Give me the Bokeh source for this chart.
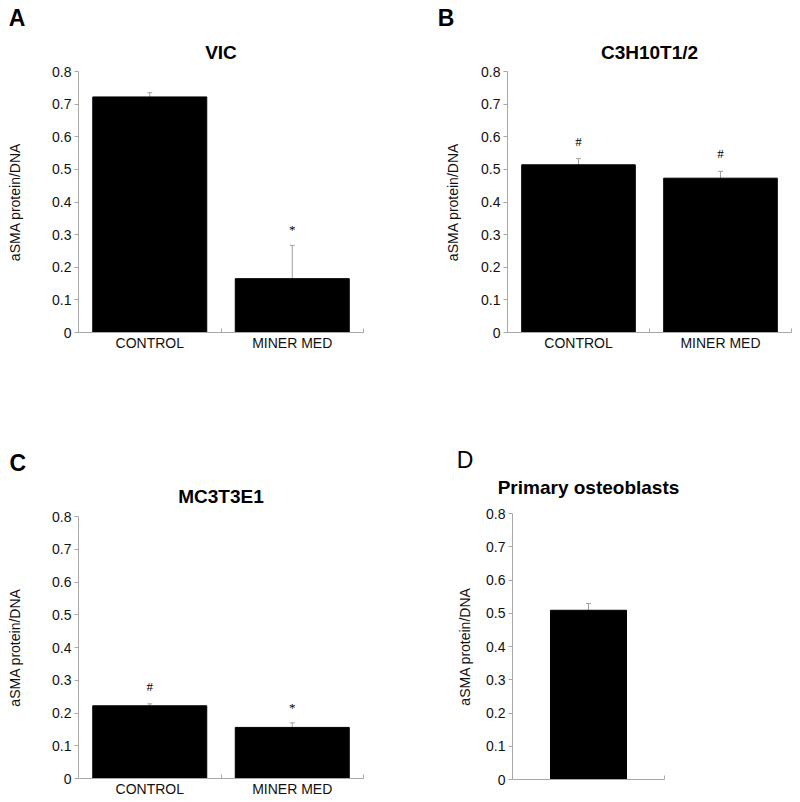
from bokeh.plotting import figure
from bokeh.models import (FactorRange, Range1d, LinearAxis, FixedTicker, Whisker, TeeHead,
                          ColumnDataSource, LabelSet, Title)
from bokeh.layouts import column, row
from bokeh.embed import file_html
from bokeh.resources import INLINE

# ---------------- data ----------------
y_ticks = [0, 0.1, 0.2, 0.3, 0.4, 0.5, 0.6, 0.7, 0.8]
y_tick_labels = ["0", "0.1", "0.2", "0.3", "0.4", "0.5", "0.6", "0.7", "0.8"]
y_title = "aSMA protein/DNA"

a_title = "VIC"
a_cats = ["CONTROL", "MINER MED"]
a_vals = [0.722, 0.165]
a_errs = [0.013, 0.102]
a_marks = ["", "*"]

b_title = "C3H10T1/2"
b_cats = ["CONTROL", "MINER MED"]
b_vals = [0.514, 0.473]
b_errs = [0.019, 0.021]
b_marks = ["#", "#"]

c_title = "MC3T3E1"
c_cats = ["CONTROL", "MINER MED"]
c_vals = [0.222, 0.156]
c_errs = [0.006, 0.014]
c_marks = ["#", "*"]

d_title = "Primary osteoblasts"
d_cats = ["Primary osteoblasts"]
d_vals = [0.509]
d_errs = [0.020]
d_marks = [""]

# ---------------- style ----------------
FONT = "Liberation Sans"
AXIS_GRAY = "#a8a8a8"
ERR_GRAY = "#a0a0a0"
MARK_OFFSET = {"*": 11, "#": 13, "": 0}


def panel(letter, letter_bold, letter_dx, letter_standoff, title, title_standoff,
          cats, vals, errs, marks, bar_w, w, h, bl, bt, fw, fh, show_xlabels,
          ylabel_standoff):
    p = figure(width=w, height=h,
               x_range=FactorRange(*cats), y_range=Range1d(y_ticks[0], y_ticks[-1]),
               x_axis_type=None, y_axis_type=None,
               output_backend="svg", toolbar_location=None,
               min_border_left=bl, min_border_top=bt,
               min_border_right=w - bl - fw, min_border_bottom=h - bt - fh)
    p.frame_align = False
    p.outline_line_color = None
    p.background_fill_color = "white"
    p.border_fill_color = "white"

    # y axis
    yax = LinearAxis(ticker=FixedTicker(ticks=y_ticks, minor_ticks=[]),
                     major_label_overrides=dict(zip(y_ticks, y_tick_labels)),
                     axis_label=y_title)
    yax.axis_line_color = AXIS_GRAY
    yax.major_tick_line_color = AXIS_GRAY
    yax.major_tick_in = 0
    yax.major_tick_out = 4
    yax.minor_tick_line_color = None
    yax.major_label_standoff = 3
    yax.major_label_text_font = FONT
    yax.major_label_text_font_size = "14px"
    yax.major_label_text_color = "#111111"
    yax.axis_label_text_font = FONT
    yax.axis_label_text_font_size = "14px"
    yax.axis_label_text_font_style = "normal"
    yax.axis_label_text_color = "#111111"
    yax.axis_label_standoff = int(ylabel_standoff)
    p.add_layout(yax, "left")

    # x axis: labels at category centres, small inward ticks at category boundaries
    n = len(cats)
    centers = [i + 0.5 for i in range(n)] if show_xlabels else []
    bounds = [i + 1 for i in range(n)]
    xax = LinearAxis(ticker=FixedTicker(ticks=centers, minor_ticks=bounds),
                     major_label_overrides=dict(zip(centers, cats)))
    xax.axis_line_color = AXIS_GRAY
    xax.major_tick_line_color = None
    xax.major_tick_in = 0
    xax.major_tick_out = 0
    xax.minor_tick_line_color = AXIS_GRAY
    xax.minor_tick_in = 4
    xax.minor_tick_out = 0
    xax.major_label_standoff = 2
    xax.major_label_text_font = FONT
    xax.major_label_text_font_size = "14px"
    xax.major_label_text_color = "#111111"
    p.add_layout(xax, "below")

    upper = [v + e for v, e in zip(vals, errs)]
    src = ColumnDataSource(dict(cat=cats, val=vals, upper=upper))
    p.add_layout(Whisker(base="cat", lower="val", upper="upper", source=src,
                         dimension="height", line_color=ERR_GRAY, line_width=1,
                         lower_head=None,
                         upper_head=TeeHead(size=5, line_color=ERR_GRAY, line_width=1)))
    p.vbar(x="cat", top="val", width=bar_w, source=src,
           fill_color="black", line_color="black")

    mk = [(c, u, m, MARK_OFFSET[m]) for c, u, m in zip(cats, upper, marks) if m]
    if mk:
        msrc = ColumnDataSource(dict(cat=[t[0] for t in mk], y=[t[1] for t in mk],
                                     text=[t[2] for t in mk], off=[t[3] for t in mk]))
        p.add_layout(LabelSet(x="cat", y="y", text="text", source=msrc,
                              y_offset="off", text_align="center",
                              text_baseline="alphabetic", text_font=FONT,
                              text_font_size="13px", text_color="black"))

    # chart title (nearest the frame) and panel letter above it
    p.add_layout(Title(text=title, align="center", standoff=title_standoff,
                       text_font=FONT, text_font_size="19px",
                       text_font_style="bold", text_color="black"), "above")
    p.add_layout(Title(text=letter, align="left", offset=letter_dx,
                       standoff=letter_standoff,
                       text_font=FONT, text_font_size="23px",
                       text_font_style="bold" if letter_bold else "normal",
                       text_color="black"), "above")
    return p


pA = panel("A", True, -69.7, 1.0, a_title, 17.4, a_cats, a_vals, a_errs, a_marks, 0.8,
           400, 418, 78, 71, 285, 261, True, 26)
pB = panel("B", True, -69.7, 1.0, b_title, 17.4, b_cats, b_vals, b_errs, b_marks, 0.8,
           400, 418, 107, 71, 284, 261, True, 17)
pC = panel("C", True, -69, -2, c_title, 19.4, c_cats, c_vals, c_errs, c_marks, 0.8,
           400, 384, 78, 98, 285, 262, True, 26)
pD = panel("D", False, -55.8, -26.4, d_title, 31.4, d_cats, d_vals, d_errs, d_marks, 0.5,
           400, 384, 112, 95, 152, 266, False, 10)

layout = column(row(pA, pB), row(pC, pD))
open("out.html", "w").write(file_html(layout, INLINE))
